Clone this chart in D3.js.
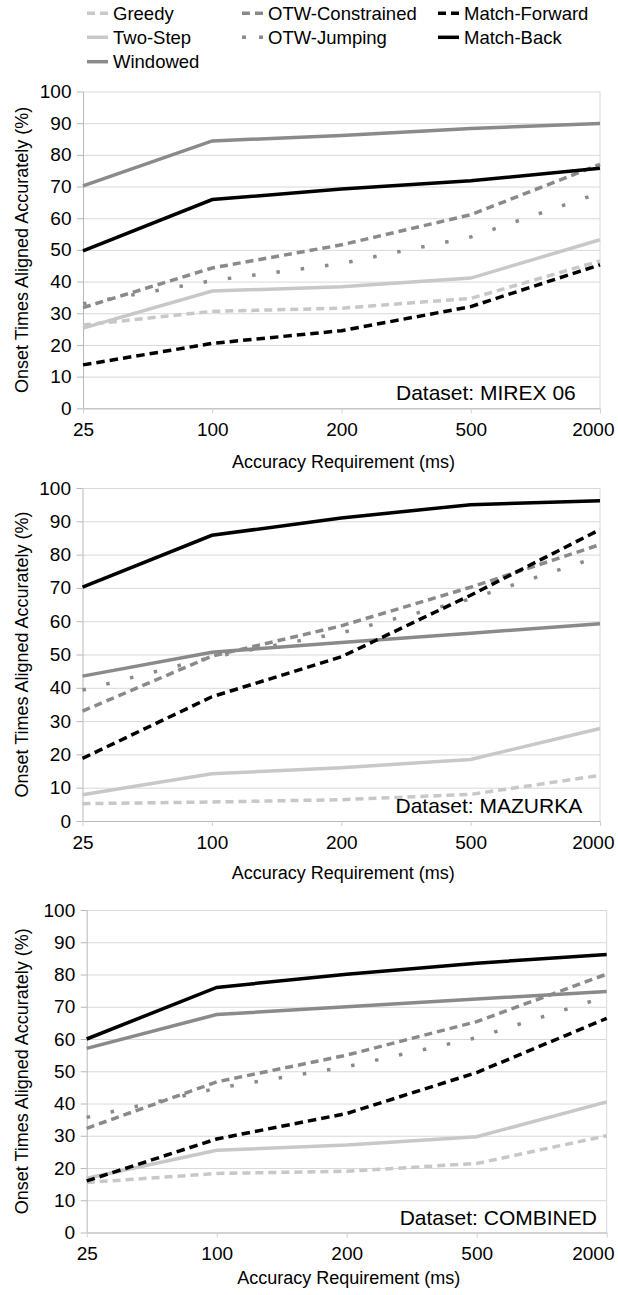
<!DOCTYPE html>
<html>
<head>
<meta charset="utf-8">
<script src="https://cdn.jsdelivr.net/npm/d3@7"></script>
<style>
  body { margin: 0; background: #fff; }
  svg { display: block; font-family: 'Liberation Sans', Arial, sans-serif; }
</style>
</head>
<body>
<script>
// x categories (ms)
const accuracyLabels = ['25', '100', '200', '500', '2000'];
const methodNames = ['Greedy', 'Two-Step', 'Windowed', 'OTW-Constrained', 'OTW-Jumping', 'Match-Forward', 'Match-Back'];
const datasetNames = ['MIREX 06', 'MAZURKA', 'COMBINED'];

// % onsets aligned, one row per method (same order as methodNames)
const mirexValues = [
  [26.3, 30.6, 31.6, 34.7, 46.5],
  [25.3, 37.0, 38.4, 41.1, 53.2],
  [70.2, 84.4, 86.1, 88.3, 89.9],
  [31.8, 44.3, 51.6, 61.1, 77.0],
  [33.0, 40.3, 45.7, 54.1, 68.0],
  [13.7, 20.5, 24.5, 32.1, 45.3],
  [49.7, 65.9, 69.2, 71.8, 75.8]
];
const mazurkaValues = [
  [5.2, 5.7, 6.4, 8.0, 13.7],
  [7.9, 14.2, 16.0, 18.5, 27.8],
  [43.5, 50.7, 53.6, 56.4, 59.2],
  [33.0, 49.5, 58.6, 70.2, 83.0],
  [39.3, 49.2, 56.5, 66.7, 79.5],
  [18.8, 37.3, 49.3, 67.8, 87.5],
  [70.2, 85.8, 91.0, 95.0, 96.2]
];
const combinedValues = [
  [15.5, 18.3, 19.0, 21.4, 30.0],
  [16.8, 25.5, 27.1, 29.7, 40.5],
  [57.1, 67.6, 70.0, 72.4, 74.7],
  [32.3, 46.7, 55.0, 65.4, 80.1],
  [35.7, 44.7, 51.4, 60.4, 73.2],
  [16.0, 29.0, 36.9, 49.6, 66.4],
  [60.0, 76.0, 80.1, 83.5, 86.2]
];
const yTicks = d3.range(0, 101, 10);

// styles
const methodColors = ['#c8c8c8', '#c8c8c8', '#8a8a8a', '#8a8a8a', '#8a8a8a', '#000', '#000'];
const methodDashes = ['8,5', null, null, '8,5', '3.5,21', '8.5,5', null];
const legendDashes = ['8,5', null, null, '8,5', '4,13', '8,5', null];
const legendPos = [[0, 0], [0, 1], [0, 2], [1, 0], [1, 1], [2, 0], [2, 1]];

const width = 618;
const height = 1295;

const svg = d3.select('body').append('svg')
  .attr('width', width)
  .attr('height', height);

// legend
const legendX = [87, 242, 438];
const legendY = [13.3, 37.3, 61.7];
const legend = svg.append('g');
methodNames.forEach((name, i) => {
  const lx = legendX[legendPos[i][0]];
  const ly = legendY[legendPos[i][1]];
  legend.append('line')
    .attr('x1', lx).attr('x2', lx + 21)
    .attr('y1', ly).attr('y2', ly)
    .attr('stroke', methodColors[i])
    .attr('stroke-width', 3.5)
    .attr('stroke-dasharray', legendDashes[i]);
  legend.append('text')
    .attr('x', lx + 26)
    .attr('y', ly)
    .attr('dy', '0.35em')
    .attr('font-size', 18.5)
    .text(name);
});

const panels = [
  { values: mirexValues, name: datasetNames[0], left: 83, right: 600, top: 91.5, bottom: 408.3, titleY: 468 },
  { values: mazurkaValues, name: datasetNames[1], left: 82.5, right: 600, top: 488, bottom: 821, titleY: 879 },
  { values: combinedValues, name: datasetNames[2], left: 86.7, right: 606.7, top: 910, bottom: 1232.5, titleY: 1284 }
];

panels.forEach(p => {
  const x = d3.scalePoint().domain(accuracyLabels).range([p.left, p.right]);
  const y = d3.scaleLinear().domain([0, 100]).range([p.bottom, p.top]);
  const g = svg.append('g');

  // horizontal grid
  g.append('g')
    .attr('transform', `translate(${p.left},0)`)
    .call(d3.axisLeft(y).tickValues(yTicks).tickSize(-(p.right - p.left)).tickFormat(''))
    .call(s => s.select('.domain').remove())
    .selectAll('line').attr('stroke', '#d9d9d9');

  // right border
  g.append('line')
    .attr('x1', p.right).attr('x2', p.right)
    .attr('y1', p.top).attr('y2', p.bottom)
    .attr('stroke', '#d9d9d9');

  // y axis
  const yAxis = g.append('g')
    .attr('transform', `translate(${p.left},0)`)
    .call(d3.axisLeft(y).tickValues(yTicks).tickSize(6).tickSizeOuter(0).tickPadding(5.5));
  yAxis.select('.domain').attr('stroke', '#b8b8b8');
  yAxis.selectAll('line').attr('stroke', '#b8b8b8');
  yAxis.selectAll('text').attr('font-size', 19).attr('font-family', null).attr('fill', '#000');

  // x axis
  const xAxis = g.append('g')
    .attr('transform', `translate(0,${p.bottom})`)
    .call(d3.axisBottom(x).tickSize(5).tickSizeOuter(0).tickPadding(9.5));
  xAxis.select('.domain').attr('stroke', '#b8b8b8');
  xAxis.selectAll('line').attr('stroke', '#d0d0d0');
  xAxis.selectAll('text').attr('font-size', 19).attr('font-family', null).attr('fill', '#000');
  xAxis.selectAll('.tick text').each(function () {
    const t = d3.select(this);
    const w = this.getComputedTextLength();
    const tickX = x(t.datum());
    if (tickX + w / 2 > 614) t.attr('x', 614 - w / 2 - tickX);
  });

  // series
  const line = d3.line()
    .x((d, i) => x(accuracyLabels[i]))
    .y(d => y(d));
  p.values.forEach((vals, i) => {
    g.append('path')
      .datum(vals)
      .attr('d', line)
      .attr('fill', 'none')
      .attr('stroke', methodColors[i])
      .attr('stroke-width', 3.5)
      .attr('stroke-dasharray', methodDashes[i]);
  });

  // dataset label
  g.append('text')
    .attr('x', p.left + 313)
    .attr('y', p.bottom - 8)
    .attr('font-size', 21)
    .text('Dataset: ' + p.name);

  // axis titles
  g.append('text')
    .attr('x', (p.left + p.right) / 2 + 2)
    .attr('y', p.titleY)
    .attr('text-anchor', 'middle')
    .attr('font-size', 18)
    .text('Accuracy Requirement (ms)');

  g.append('text')
    .attr('transform', `translate(22,${(p.top + p.bottom) / 2}) rotate(-90)`)
    .attr('dy', '0.35em')
    .attr('text-anchor', 'middle')
    .attr('font-size', 18)
    .text('Onset Times Aligned Accurately (%)');
});
</script>
</body>
</html>
